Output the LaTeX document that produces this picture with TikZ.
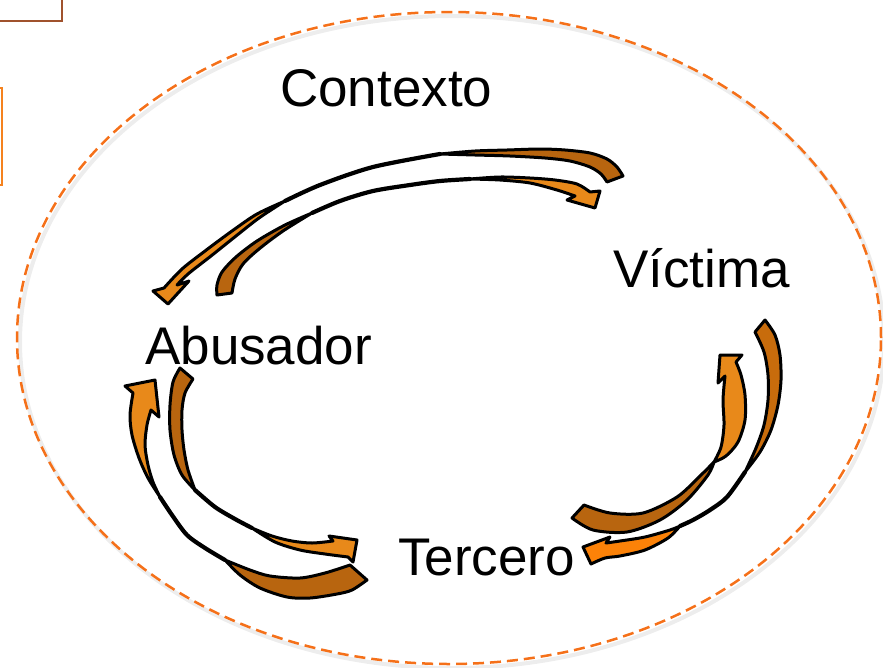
\documentclass[tikz,border=0pt]{standalone}
\usepackage{fontspec}
\setmainfont{Liberation Sans}
\definecolor{ellc}{RGB}{245,112,25}
\definecolor{brn}{RGB}{184,101,15}
\definecolor{brnb}{RGB}{200,108,12}
\definecolor{org}{RGB}{232,137,26}
\definecolor{orgb}{RGB}{252,130,8}
\definecolor{boxbrown}{RGB}{160,82,45}
\definecolor{boxorange}{RGB}{245,130,30}
\begin{document}
\begin{tikzpicture}[x=1pt,y=-1pt,
  piece/.style={draw=black, line width=3pt, line join=round},
  thinpart/.style={draw=black, line width=4.2pt, line cap=round},
  lbl/.style={font=\fontsize{53}{60}\selectfont, inner sep=0pt, anchor=base west}]
\useasboundingbox (0,0) rectangle (883,667);
% frame fragments
\draw[boxbrown, line width=1.6pt] (-10,-10) rectangle (62,21);
\draw[boxorange, line width=1.6pt] (-10,88) rectangle (2,185);
% context ellipse with soft shadow
\draw[black, opacity=0.07, line width=4pt] (452,342) ellipse [x radius=432pt, y radius=326pt];
\draw[ellc, line width=2.5pt, dash pattern=on 11pt off 6pt] (449,338) ellipse [x radius=432pt, y radius=326pt];
% labels
\node[lbl] (ctx) at (280,106) {Contexto};
\node[lbl] (vic) at (613,287) {Víctima};
\node[lbl] (abu) at (145,364) {Abusador};
\node[lbl] (ter) at (398,575) {Tercero};
% ---- arrow A: Victima -> Abusador (top outer)
\draw[thinpart] plot[smooth] coordinates {(440,154) (373,167) (320,185) (285,201)};
\filldraw[piece, fill=brn] plot[smooth] coordinates {(440,154) (475,151) (507,150) (540,149) (565,150) (590,153) (607,159) (617,167) (623,176)} -- (607,182) -- plot[smooth] coordinates {(607,182) (601,174) (590,167) (570,161) (545,158) (510,156) (475,155) (440,154)} -- cycle;
\filldraw[piece, fill=org] plot[smooth] coordinates {(285,201) (257,214) (232,231) (205,251) (182,269) (164,288)} -- (153,291) -- (168,304) -- (189,281) -- (177,285) -- plot[smooth] coordinates {(177,285) (188,274) (211,256) (236,236) (259,218) (285,201)} -- cycle;
% ---- arrow B: Abusador -> Victima (top inner)
\draw[thinpart] plot[smooth] coordinates {(312,213) (340,201) (373,191) (410,185) (440,181) (470,179)};
\filldraw[piece, fill=brn] plot[smooth] coordinates {(217,295) (217,285) (222,272) (236,257) (257,241) (285,225) (312,213)} -- plot[smooth] coordinates {(312,213) (283,231) (259,249) (243,264) (235,279) (232,293)} -- cycle;
\filldraw[piece, fill=org] plot[smooth] coordinates {(470,179) (500,177) (530,178) (555,180) (577,184) (590,192)} -- (600,191) -- (595,208) -- (567,200) -- (575,196) -- plot[smooth] coordinates {(575,196) (557,190) (530,183) (500,180) (470,179)} -- cycle;
% ---- arrow C: Victima -> Tercero (right outer)
\draw[thinpart] plot[smooth] coordinates {(745,472) (727,497) (710,510) (693,520) (680,526)};
\filldraw[piece, fill=brnb] plot[smooth] coordinates {(745,472) (760,452) (771,430) (778,405) (781,380) (780,355) (775,335) (765,320)} -- (755,332) -- plot[smooth] coordinates {(755,332) (764,352) (768,375) (768,400) (764,425) (756,448) (745,472)} -- cycle;
\filldraw[piece, fill=orgb] plot[smooth] coordinates {(680,526) (670,530) (645,537) (620,541) (606,543)} -- (610,537) -- (583,547) -- (591,564) -- plot[smooth] coordinates {(591,564) (605,558) (620,556) (645,550) (668,538) (680,526)} -- cycle;
% ---- arrow D: Tercero -> Victima (right inner)
\filldraw[piece, fill=brn] plot[smooth] coordinates {(584,505) (610,513) (643,513) (677,497) (700,476) (714,462)} -- plot[smooth] coordinates {(714,462) (708,475) (687,500) (660,520) (627,532) (593,530) (572,518)} -- cycle;
\filldraw[piece, fill=org] plot[smooth] coordinates {(714,462) (721,447) (724,425) (723,400) (725,376)} -- (718,383) -- (720,355) -- (742,355) -- (736,362) -- plot[smooth] coordinates {(736,362) (741,375) (745,395) (745,420) (738,442) (726,456) (714,462)} -- cycle;
% ---- arrow E: Tercero -> Abusador (left outer)
\draw[thinpart] plot[smooth] coordinates {(225,560) (205,548) (187,535) (172,515) (160,497)};
\filldraw[piece, fill=brn] plot[smooth] coordinates {(225,560) (250,570) (270,576) (300,578) (325,573) (350,565)} -- (367,580) -- plot[smooth] coordinates {(367,580) (352,590) (337,594) (310,598) (287,597) (260,588) (240,575) (225,560)} -- cycle;
\filldraw[piece, fill=org] plot[smooth] coordinates {(160,497) (148,478) (139,458) (132,435) (130,415) (133,393)} -- (125,386) -- (155,380) -- (159,417) -- (151,410) -- plot[smooth] coordinates {(151,410) (147,425) (145,445) (148,465) (153,482) (160,497)} -- cycle;
% ---- arrow F: Abusador -> Tercero (left inner)
\draw[thinpart] plot[smooth] coordinates {(195,490) (215,507) (235,519) (252,528)};
\filldraw[piece, fill=brn] plot[smooth] coordinates {(180,368) (173,382) (170,405) (170,430) (174,455) (182,475) (195,490)} -- plot[smooth] coordinates {(195,490) (188,470) (184,450) (182,430) (182,410) (185,393) (193,379)} -- cycle;
\filldraw[piece, fill=org] plot[smooth] coordinates {(252,528) (272,536) (292,541) (312,543) (333,541)} -- (329,536) -- (357,540) -- (353,562) -- (348,557) -- plot[smooth] coordinates {(348,557) (325,554) (300,550) (275,542) (252,528)} -- cycle;
\end{tikzpicture}
\end{document}
